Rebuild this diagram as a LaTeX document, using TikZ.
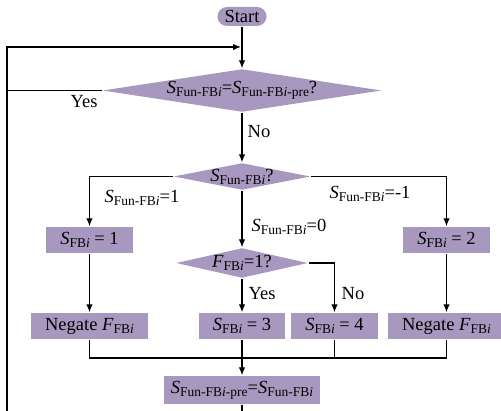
\documentclass[tikz,border=0pt]{standalone}
\usepackage{fontspec}
\setmainfont{Liberation Serif}
\usepackage{tikz}
\usetikzlibrary{arrows.meta,shapes.geometric}
\definecolor{boxpurple}{RGB}{168,152,192}
\newcommand{\lowtxt}[1]{\raisebox{-3pt}{\fontsize{13.5}{13.5}\selectfont #1}}
\newcommand{\SFun}{\textit{S}\lowtxt{Fun-FB\textit{i}}}
\newcommand{\SFunPre}{\textit{S}\lowtxt{Fun-FB\textit{i}-pre}}
\newcommand{\SFB}{\textit{S}\lowtxt{FB\textit{i}}}
\newcommand{\FFB}{\textit{F}\lowtxt{FB\textit{i}}}

\begin{document}
\begin{tikzpicture}[x=1pt,y=-1pt,line width=1.3pt,
  font=\fontsize{18.5}{21}\selectfont,
  >={Latex[length=8pt,width=6.5pt]},
  term/.style={rectangle,rounded corners=9.5pt,fill=boxpurple,
    minimum width=49pt,minimum height=19pt,inner sep=0pt},
  proc/.style={rectangle,fill=boxpurple,minimum height=26pt,inner sep=0pt},
  decide/.style={diamond,fill=boxpurple,inner sep=0pt}]
  \useasboundingbox (0,0) rectangle (501,411);
  % Start
  \node[term] (start) at (242,16.5) {Start};
  % First check: did the state change?
  \node[decide,minimum width=279pt,minimum height=43pt] (cmp) at (242,90.5)
    {\makebox[0pt]{\SFun=\SFunPre?}};
  % Second check: which state?
  \node[decide,minimum width=137pt,minimum height=27pt] (kind) at (242,176.5)
    {\makebox[0pt]{\SFun?}};
  % Third check on the flag
  \node[decide,minimum width=132pt,minimum height=30pt] (flag) at (242,263)
    {\makebox[0pt]{\FFB=1?}};
  % Process boxes
  \node[proc,minimum width=87pt] (s1) at (89.5,240) {\SFB{} = 1};
  \node[proc,minimum width=87pt] (s2) at (446.5,240) {\SFB{} = 2};
  \node[proc,minimum width=117pt] (neg1) at (89.5,326) {Negate \FFB};
  \node[proc,minimum width=86pt] (s3) at (242,326) {\SFB{} = 3};
  \node[proc,minimum width=87pt] (s4) at (334.5,326) {\SFB{} = 4};
  \node[proc,minimum width=117pt] (neg2) at (446.5,326) {Negate \FFB};
  \node[proc,minimum width=156pt,minimum height=28pt] (fin) at (242,390)
    {\SFunPre=\SFun};
  % Branch labels
  \node (yescmp) at (84,102) {Yes};
  \node (nocmp) at (259,132) {No};
  \node (lblone) at (142,198) {\SFun=1};
  \node (lblzero) at (289,227) {\SFun=0};
  \node (lblminus) at (370,194) {\SFun=-1};
  \node (yesflag) at (262,294) {Yes};
  \node (noflag) at (353,294) {No};
  % Loop back line
  \coordinate (loopbot) at (7,411);
  \coordinate (looptop) at (7,47);
  \coordinate (loopin) at (241,47);
  \coordinate (merge) at (242,358);
  \draw[->] (loopbot) -- (looptop) -- (loopin);
  % Main flow
  \draw[->] (start.south) -- (cmp.north);
  \draw (cmp.west) -- (cmp.west -| looptop);
  \draw[->] (cmp.south) -- (kind.north);
  \draw[->] (kind.west) -| (s1.north);
  \draw[->] (kind.east) -| (s2.north);
  \draw[->] (kind.south) -- (flag.north);
  \draw[->] (flag.south) -- (s3.north);
  \draw[->] (flag.east) -| (s4.north);
  \draw[->] (s1.south) -- (neg1.north);
  \draw[->] (s2.south) -- (neg2.north);
  % Merge into the last box
  \draw (neg1.south) |- (merge);
  \draw (neg2.south) |- (merge);
  \draw (s4.south) |- (merge);
  \draw[->] (s3.south) -- (fin.north);
  \draw (fin.south) -- (fin.south |- loopbot);
\end{tikzpicture}
\end{document}
